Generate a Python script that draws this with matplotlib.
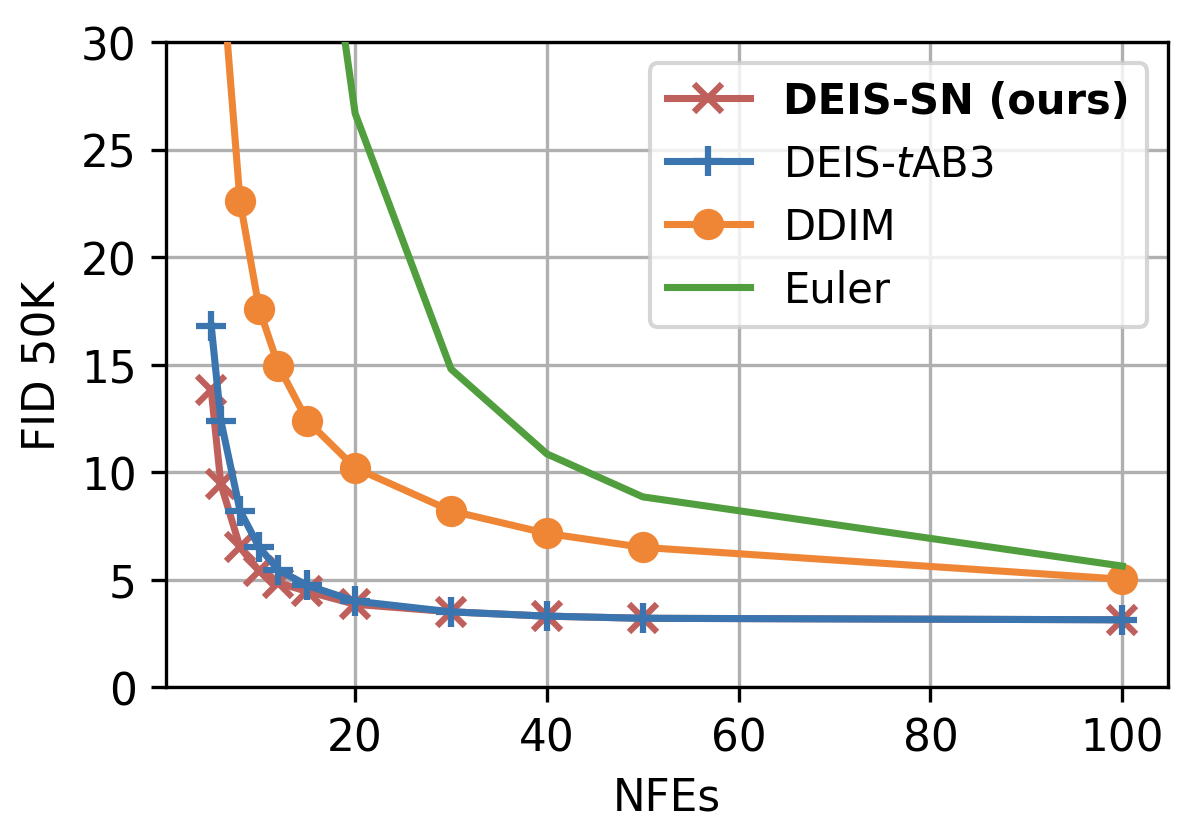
import matplotlib
matplotlib.use("Agg")
import matplotlib.pyplot as plt

# NFEs and FID 50K values
nfe_sn = [5, 6, 8, 10, 12, 15, 20, 30, 40, 50, 100]
fid_sn = [13.8, 9.45, 6.5, 5.4, 4.85, 4.45, 3.85, 3.5, 3.3, 3.2, 3.13]

nfe_tab3 = [5, 6, 8, 10, 12, 15, 20, 30, 40, 50, 100]
fid_tab3 = [16.8, 12.4, 8.2, 6.5, 5.45, 4.73, 4.0, 3.5, 3.3, 3.2, 3.13]

nfe_ddim = [5, 8, 10, 12, 15, 20, 30, 40, 50, 100]
fid_ddim = [39.5, 22.6, 17.6, 14.95, 12.4, 10.2, 8.2, 7.15, 6.5, 5.02]

nfe_euler = [10, 20, 30, 40, 50, 100]
fid_euler = [58.4, 26.7, 14.8, 10.85, 8.85, 5.63]

labels = [r"DEIS-SN (ours)", r"DEIS-$t$AB3", "DDIM", "Euler"]
c_red, c_blue, c_orange, c_green = "#c0605c", "#3b75af", "#ef8636", "#519e3e"

fig = plt.figure(figsize=(1194 / 300, 834 / 300), dpi=300)
ax = fig.add_axes([0.1388, 0.175, 0.978 - 0.1388, 0.948 - 0.175])

ax.plot(nfe_sn, fid_sn, color=c_red, marker="x", lw=1.7, ms=6.5, mew=1.5,
        label=labels[0], zorder=3)
ax.plot(nfe_tab3, fid_tab3, color=c_blue, marker="+", lw=1.7, ms=7, mew=1.5,
        label=labels[1], zorder=4)
ax.plot(nfe_ddim, fid_ddim, color=c_orange, marker="o", lw=1.7, ms=6.5,
        label=labels[2], zorder=3)
ax.plot(nfe_euler, fid_euler, color=c_green, lw=1.7, label=labels[3], zorder=3)

ax.set_ylim(0, 30)
ax.set_xlim(0.25, 104.75)
ax.set_xticks([20, 40, 60, 80, 100])
ax.set_yticks([0, 5, 10, 15, 20, 25, 30])
ax.tick_params(labelsize=10.5)
ax.grid(True, color="#b0b0b0", lw=0.8)
ax.set_axisbelow(True)
ax.set_xlabel("NFEs", fontsize=10.5)
ax.set_ylabel("FID 50K", fontsize=10.5)

leg = ax.legend(loc="upper right", fontsize=10)
leg.get_texts()[0].set_fontweight("bold")

fig.savefig("out.png", dpi=300)
